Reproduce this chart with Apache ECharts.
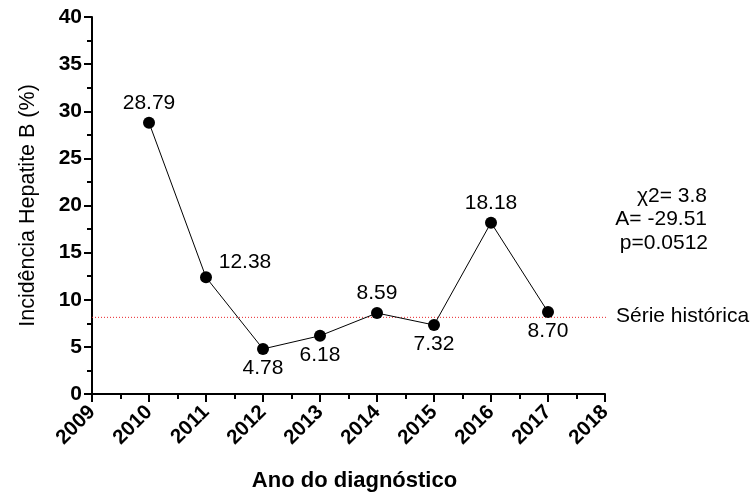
<!DOCTYPE html>
<html><head><meta charset="utf-8">
<script src="https://cdn.jsdelivr.net/npm/echarts@6/dist/echarts.min.js"></script>
<style>html,body{margin:0;padding:0;background:#fff}#c{width:751px;height:497px}</style>
</head><body><div id="c"></div>
<script>
var years = [2010, 2011, 2012, 2013, 2014, 2015, 2016, 2017];
var incidence = [28.79, 12.38, 4.78, 6.18, 8.59, 7.32, 18.18, 8.70];
var historicalMean = 8.3;
var statsLines = ['\u03C72= 3.8', 'A= -29.51', 'p=0.0512'];
var refLabel = 'Série histórica';
var labelPlacement = ['top', 'topright', 'bottom', 'bottom', 'top', 'bottom', 'top', 'bottom'];

var FONT = '"Liberation Sans", Arial, sans-serif';
var chart = echarts.init(document.getElementById('c'), null, {renderer: 'canvas'});
var pts = years.map(function (y, i) {
  var p = labelPlacement[i];
  var lab = {position: p === 'bottom' ? 'bottom' : 'top'};
  if (p === 'topright') { lab.offset = [39, 4]; }
  return {value: [y, incidence[i]], label: lab};
});
var option = {
  animation: false,
  grid: [
    {left: 92, right: 146, top: 17, bottom: 101},
    {left: 92, right: 143, top: 17, bottom: 101}
  ],
  xAxis: [{
    type: 'value', min: 2009, max: 2018, interval: 1, gridIndex: 0,
    name: 'Ano do diagnóstico', nameLocation: 'middle', nameGap: 76,
    nameTextStyle: {fontFamily: FONT, fontSize: 22, fontWeight: 'bold', color: '#000', padding: [0, 0, 0, 12]},
    axisLine: {onZero: false, lineStyle: {color: '#000', width: 2}},
    axisTick: {length: 8, lineStyle: {color: '#000', width: 2}},
    minorTick: {show: true, splitNumber: 2, length: 5, lineStyle: {color: '#000', width: 2}},
    splitLine: {show: false},
    axisLabel: {rotate: 45, fontFamily: FONT, fontSize: 20.5, fontWeight: 'bold', color: '#000', margin: 15,
      formatter: function (v) { return String(v); }}
  }, {
    type: 'value', min: 0, max: 1, gridIndex: 1, show: false
  }],
  yAxis: [{
    type: 'value', min: 0, max: 40, interval: 5, gridIndex: 0,
    name: 'Incidência Hepatite B (%)', nameLocation: 'middle', nameGap: 53,
    nameTextStyle: {fontFamily: FONT, fontSize: 21.5, color: '#000'},
    axisLine: {show: true, lineStyle: {color: '#000', width: 2}},
    axisTick: {show: true, length: 8, lineStyle: {color: '#000', width: 2}},
    minorTick: {show: true, splitNumber: 2, length: 5, lineStyle: {color: '#000', width: 2}},
    splitLine: {show: false},
    axisLabel: {fontFamily: FONT, fontSize: 21, fontWeight: 'bold', color: '#000', margin: 10}
  }, {
    type: 'value', min: 0, max: 40, gridIndex: 1, show: false
  }],
  series: [{
    type: 'line', xAxisIndex: 1, yAxisIndex: 1, silent: true,
    data: [[0, historicalMean], [1, historicalMean]],
    symbol: 'none',
    lineStyle: {color: '#e8242a', width: 1, type: [1, 2]},
    z: 1
  }, {
    type: 'line', xAxisIndex: 0, yAxisIndex: 0,
    data: pts,
    symbol: 'circle', symbolSize: 12,
    itemStyle: {color: '#000'},
    lineStyle: {color: '#000', width: 1},
    label: {show: true, fontFamily: FONT, fontSize: 21, color: '#000', distance: 3,
      formatter: function (p) { return p.value[1].toFixed(2); }},
    z: 3
  }],
  graphic: [
    {type: 'text', x: 707, y: 196, style: {text: statsLines[0], fontFamily: FONT, fontSize: 21, fill: '#000', textAlign: 'right', textVerticalAlign: 'middle'}},
    {type: 'text', x: 707, y: 219, style: {text: statsLines[1], fontFamily: FONT, fontSize: 21, fill: '#000', textAlign: 'right', textVerticalAlign: 'middle'}},
    {type: 'text', x: 708, y: 243, style: {text: statsLines[2], fontFamily: FONT, fontSize: 21, fill: '#000', textAlign: 'right', textVerticalAlign: 'middle'}},
    {type: 'text', x: 616, y: 316, style: {text: refLabel, fontFamily: FONT, fontSize: 21, fill: '#000', textAlign: 'left', textVerticalAlign: 'middle'}}
  ]
};
chart.setOption(option);
</script></body></html>
